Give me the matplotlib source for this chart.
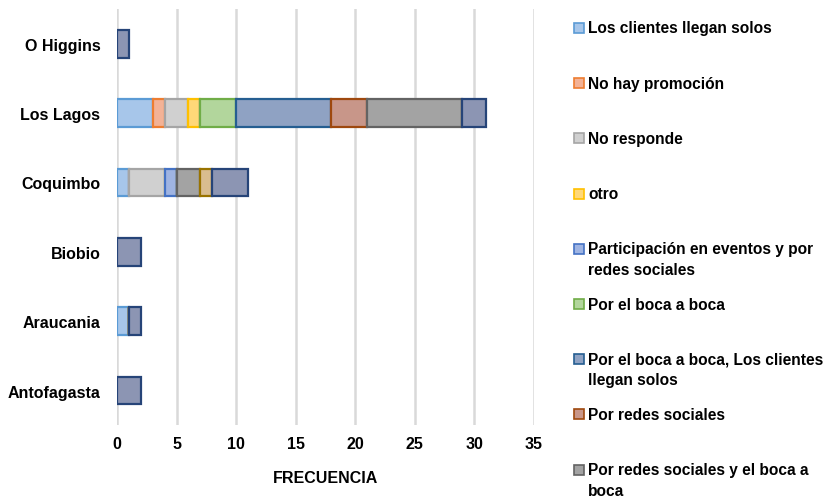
import matplotlib
matplotlib.use("Agg")
import matplotlib.pyplot as plt
from matplotlib.patches import Rectangle
import numpy as np

plt.rcParams['font.family'] = ['Liberation Sans', 'DejaVu Sans']

regions = ["Antofagasta", "Araucania", "Biobio", "Coquimbo", "Los Lagos", "O Higgins"]

series_names = [
    "Los clientes llegan solos",
    "No hay promoción",
    "No responde",
    "otro",
    "Participación en eventos y por\nredes sociales",
    "Por el boca a boca",
    "Por el boca a boca, Los clientes\nllegan solos",
    "Por redes sociales",
    "Por redes sociales y el boca a\nboca",
    "Por redes sociales y otro",
    "Por redes sociales, Los clientes llegan solos",
]

# counts per region, in the order of `regions`
los_clientes      = [0, 1, 0, 1, 3, 0]
no_hay_promocion  = [0, 0, 0, 0, 1, 0]
no_responde       = [0, 0, 0, 3, 2, 0]
otro              = [0, 0, 0, 0, 1, 0]
participacion     = [0, 0, 0, 1, 0, 0]
boca_a_boca       = [0, 0, 0, 0, 3, 0]
boca_y_clientes   = [0, 0, 0, 0, 8, 0]
redes_sociales    = [0, 0, 0, 0, 3, 0]
redes_y_boca      = [0, 0, 0, 2, 8, 0]
redes_y_otro      = [0, 0, 0, 1, 0, 0]
redes_y_clientes  = [2, 1, 2, 3, 2, 1]

values = [los_clientes, no_hay_promocion, no_responde, otro, participacion,
          boca_a_boca, boca_y_clientes, redes_sociales, redes_y_boca,
          redes_y_otro, redes_y_clientes]

fills = ["#a7c6ea", "#f3b296", "#d0d0d0", "#ffd878", "#9fb4e2", "#b2d69c",
         "#8fa2c3", "#c89689", "#a3a3a3", "#d9bd8f", "#8c95b3"]
edges = ["#5b9bd5", "#ed7d31", "#a5a5a5", "#ffc000", "#4472c4", "#70ad47",
         "#255e91", "#9e480e", "#636363", "#997300", "#264478"]

fig = plt.figure(figsize=(8.25, 5.02), dpi=100)
ax = fig.add_axes([0.1418, 0.151, 0.505, 0.829])

y = np.arange(len(regions))
left = np.zeros(len(regions))
for vals, fc, ec, name in zip(values, fills, edges, series_names):
    v = np.array(vals, dtype=float)
    ax.barh(y, v, left=left, height=0.4, color=fc, edgecolor=ec,
            linewidth=1.6, label=name, zorder=3)
    left += v

ax.set_xlim(0, 35)
ax.set_ylim(-0.5, 5.5)
ax.set_xticks(np.arange(0, 36, 5))
ax.set_yticks(y)
ax.set_yticklabels(regions)
for s in ax.spines.values():
    s.set_visible(False)
ax.grid(axis='x', color='#d9d9d9', linewidth=1.8, zorder=0)
ax.tick_params(length=0, labelsize=11.5)
ax.tick_params(axis='x', pad=7.5)
ax.tick_params(axis='y', pad=12)
for lab in ax.get_xticklabels() + ax.get_yticklabels():
    lab.set_fontweight('bold')
ax.set_xlabel("FRECUENCIA", fontsize=11.5, fontweight='bold', labelpad=14)

# legend column on the right, evenly spaced entries
W, H = fig.get_size_inches() * fig.dpi
x_box, x_text = 574, 588
y0, step = 29, 55.2
for i, (name, fc, ec) in enumerate(zip(series_names, fills, edges)):
    ypx = y0 + i * step
    if ypx > H - 10:
        break
    fig.patches.append(Rectangle((x_box / W, 1 - (ypx + 5) / H), 10 / W, 10 / H,
                                 transform=fig.transFigure, facecolor=fc,
                                 edgecolor=ec, linewidth=1.2))
    fig.text(x_text / W, 1 - (ypx - 7.5) / H, name, fontsize=11.2, fontweight='bold',
             va='top', ha='left', linespacing=1.45, color='#000000')

fig.savefig("out.png", dpi=100)
